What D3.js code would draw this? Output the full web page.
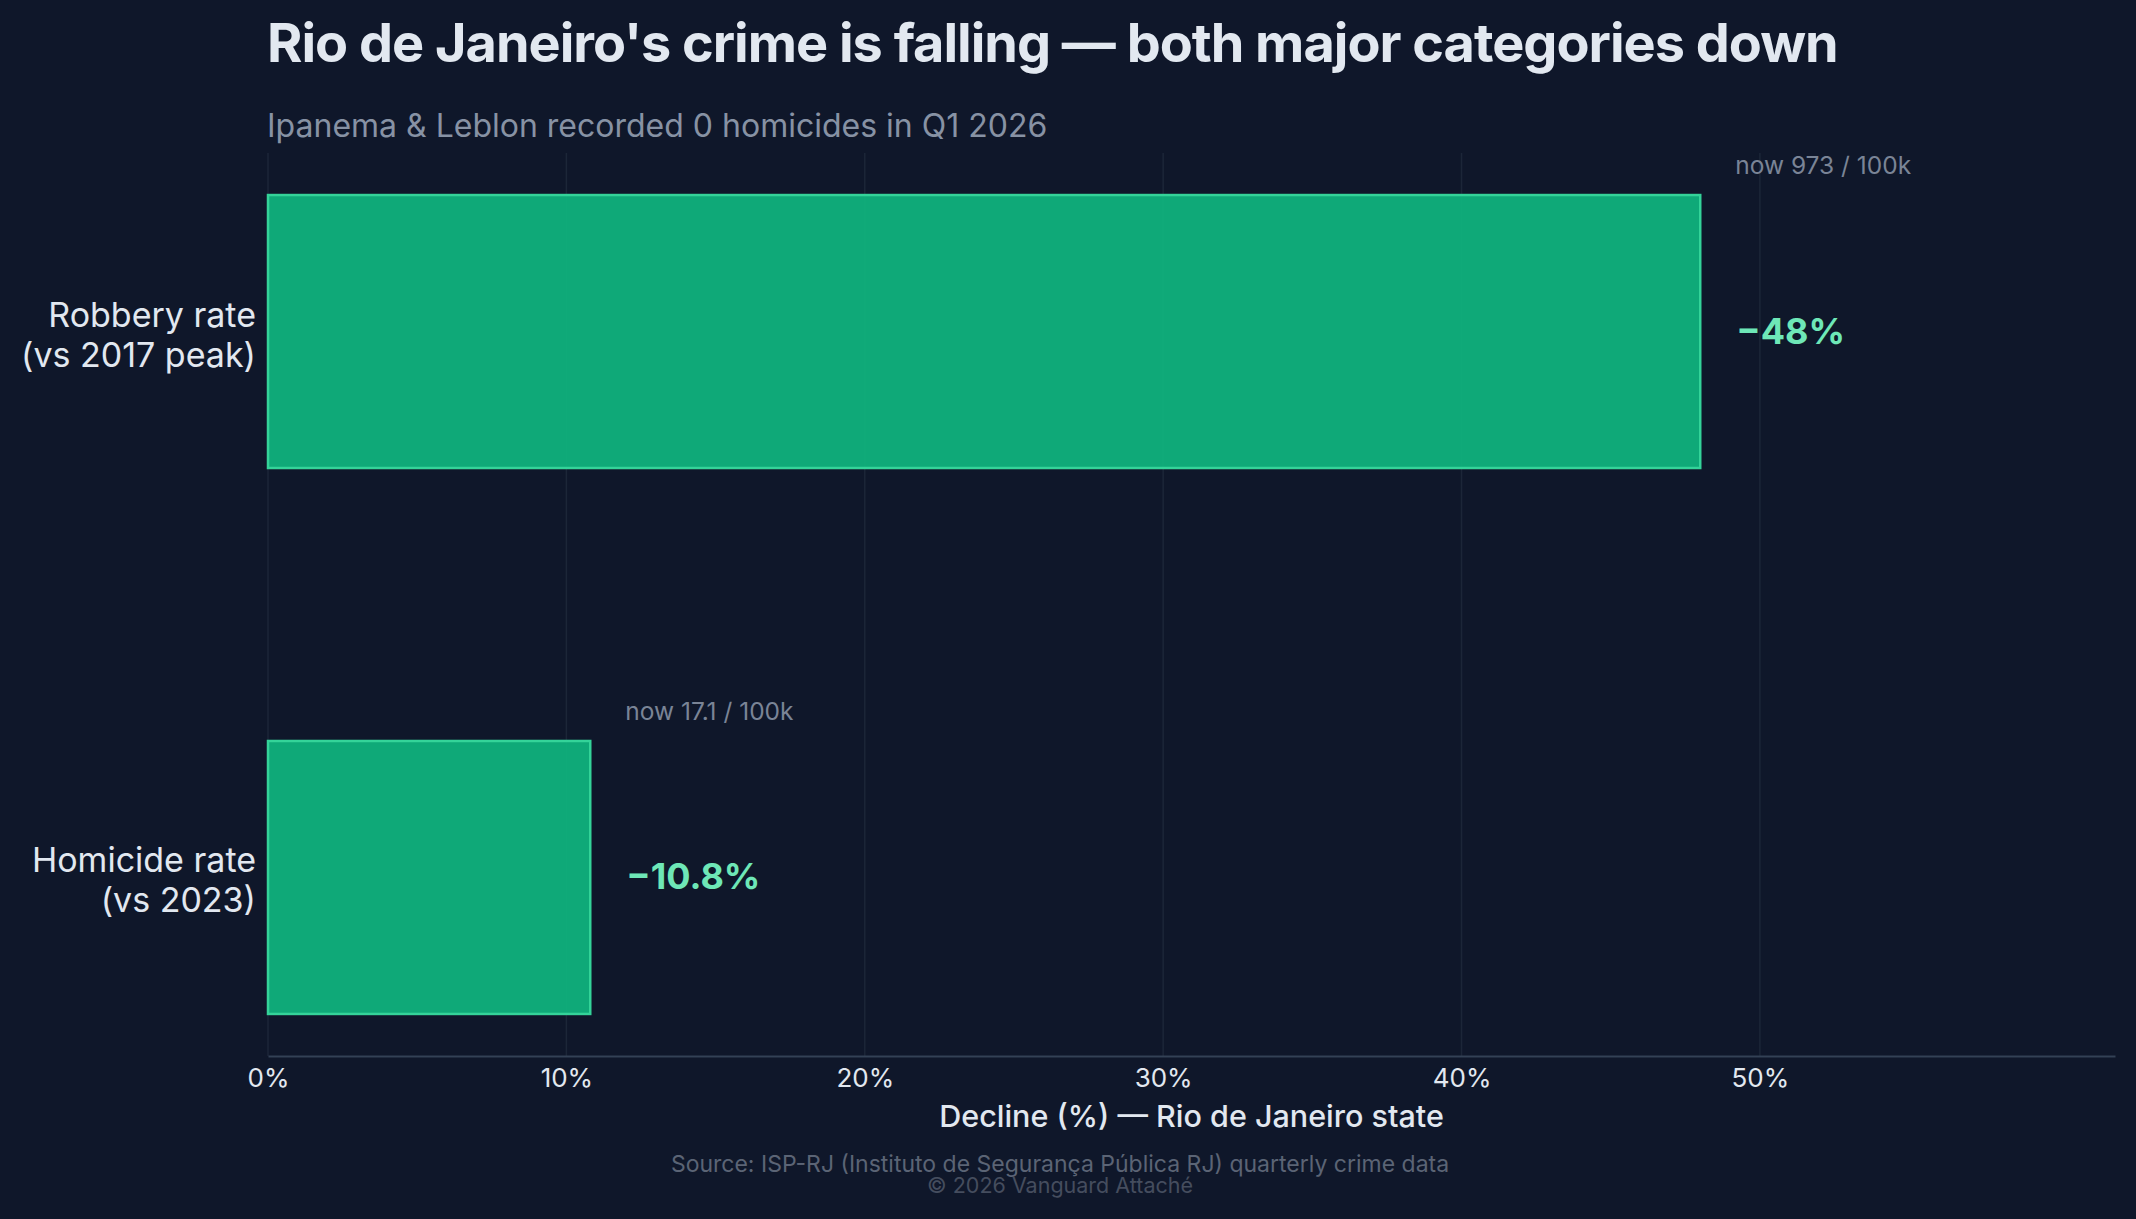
<!DOCTYPE html>
<html>
<head>
<meta charset="utf-8">
<script src="https://cdn.jsdelivr.net/npm/d3@7"></script>
<style>
  html, body { margin: 0; padding: 0; background: #0f172a; }
  svg { display: block; font-family: Inter, "Noto Sans", sans-serif; }
</style>
</head>
<body>
<div id="plot_area"></div>
<script>
const categories = [['Robbery rate', '(vs 2017 peak)'], ['Homicide rate', '(vs 2023)']],
   declines = [48, 10.8],
   valueLabels = ['\u221248%', '\u221210.8%'],
   nowLabels = ['now 973 / 100k', 'now 17.1 / 100k'],
   xTicks = [0, 10, 20, 30, 40, 50]

const svgWidth = 2136,
   svgHeight = 1219,
   margin = { top: 153, right: 21, bottom: 163, left: 268 },
   chartWidth = svgWidth - margin.left - margin.right,
   chartHeight = svgHeight - margin.top - margin.bottom

const svg = d3.select('#plot_area').append('svg')
    .attr('width', svgWidth)
    .attr('height', svgHeight)

svg.append('rect')
    .attr('width', svgWidth)
    .attr('height', svgHeight)
    .attr('fill', '#0f172a')

// titles
svg.append('text')
    .attr('x', 267)
    .attr('y', 62)
    .attr('font-size', 54)
    .attr('font-weight', 700)
    .attr('letter-spacing', -1)
    .attr('fill', '#e2e8f0')
    .text("Rio de Janeiro's crime is falling \u2014 both major categories down")

svg.append('text')
    .attr('x', 267)
    .attr('y', 137)
    .attr('font-size', 32)
    .attr('fill', '#8792a4')
    .text('Ipanema & Leblon recorded 0 homicides in Q1 2026')

let chartGroup = svg.append('g')
    .attr('transform', `translate(${margin.left}, ${margin.top})`)

let x = d3.scaleLinear()
    .domain([0, 61.9])
    .range([0, chartWidth])

let y = d3.scaleBand()
    .domain(d3.range(categories.length))
    .range([0, chartHeight])
    .paddingInner(0.5)
    .paddingOuter(0.077)

// grid
chartGroup.append('g')
    .selectAll('line')
    .data(xTicks)
    .enter()
    .append('line')
    .attr('x1', d => x(d))
    .attr('x2', d => x(d))
    .attr('y1', 0)
    .attr('y2', chartHeight)
    .attr('stroke', '#1c2638')
    .attr('stroke-width', 1.5)

// x axis
let xAxis = chartGroup.append('g')
    .attr('transform', `translate(0, ${chartHeight})`)
    .call(d3.axisBottom(x).tickValues(xTicks).tickFormat(d => d + '%').tickSize(0).tickPadding(13))

xAxis.select('.domain')
    .attr('stroke', '#334155')
    .attr('stroke-width', 2)
xAxis.selectAll('text')
    .attr('font-family', 'Inter, sans-serif')
    .attr('font-size', 26)
    .attr('fill', '#e2e8f0')

chartGroup.append('text')
    .attr('x', chartWidth / 2)
    .attr('y', chartHeight + 71)
    .attr('text-anchor', 'middle')
    .attr('font-size', 30.5)
    .attr('font-weight', 500)
    .attr('fill', '#e2e8f0')
    .text('Decline (%) \u2014 Rio de Janeiro state')

// bars
chartGroup.append('g')
    .selectAll('rect')
    .data(declines)
    .enter()
    .append('rect')
    .attr('x', x(0))
    .attr('y', (d, i) => y(i))
    .attr('width', d => x(d) - x(0))
    .attr('height', y.bandwidth())
    .attr('fill', '#10b981')
    .attr('fill-opacity', 0.9)
    .attr('stroke', '#34d399')
    .attr('stroke-width', 2.5)

// category labels
let catLabels = chartGroup.append('g')
    .selectAll('text')
    .data(categories)
    .enter()
    .append('text')
    .attr('text-anchor', 'end')
    .attr('font-size', 34)
    .attr('fill', '#e2e8f0')
    .attr('transform', (d, i) => `translate(-12, ${y(i) + y.bandwidth() / 2})`)

catLabels.selectAll('tspan')
    .data(d => d)
    .enter()
    .append('tspan')
    .attr('x', 0)
    .attr('y', (d, j) => j === 0 ? -5 : 35)
    .text(d => d)

// value labels
chartGroup.append('g')
    .selectAll('text')
    .data(declines)
    .enter()
    .append('text')
    .attr('x', d => x(d) + 36)
    .attr('y', (d, i) => y(i) + y.bandwidth() / 2 + 12)
    .attr('font-size', 36)
    .attr('font-weight', 700)
    .attr('fill', '#6ee7b7')
    .text((d, i) => valueLabels[i])

chartGroup.append('g')
    .selectAll('text')
    .data(declines)
    .enter()
    .append('text')
    .attr('x', d => x(d) + 35)
    .attr('y', (d, i) => y(i) - 21)
    .attr('font-size', 24.5)
    .attr('fill', '#7a8496')
    .text((d, i) => nowLabels[i])

// footer
svg.append('text')
    .attr('x', 1060)
    .attr('y', 1172)
    .attr('text-anchor', 'middle')
    .attr('font-size', 23)
    .attr('fill', '#5b6475')
    .text('Source: ISP-RJ (Instituto de Seguran\u00e7a P\u00fablica RJ) quarterly crime data')

svg.append('text')
    .attr('x', 1060)
    .attr('y', 1193)
    .attr('text-anchor', 'middle')
    .attr('font-size', 21.5)
    .attr('fill', '#454d5e')
    .text('\u00a9 2026 Vanguard Attach\u00e9')
</script>
</body>
</html>
